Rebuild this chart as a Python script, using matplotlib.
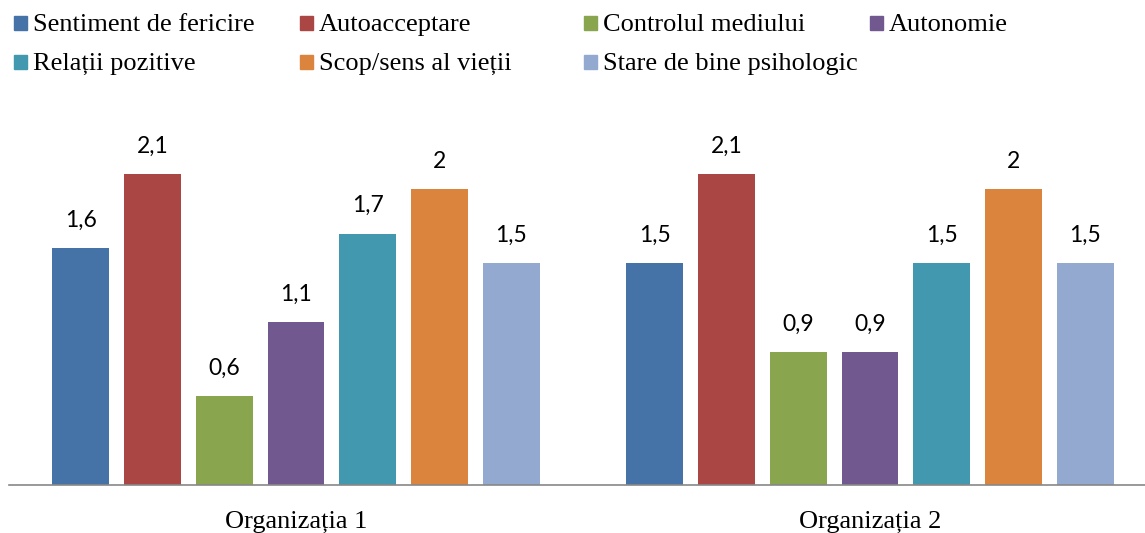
import matplotlib.pyplot as plt
from matplotlib.patches import Rectangle
import numpy as np

# Data
groups = ['Organizația 1', 'Organizația 2']
series = ['Sentiment de fericire', 'Autoacceptare', 'Controlul mediului', 'Autonomie',
          'Relații pozitive', 'Scop/sens al vieții', 'Stare de bine psihologic']
org1 = [1.6, 2.1, 0.6, 1.1, 1.7, 2.0, 1.5]
org2 = [1.5, 2.1, 0.9, 0.9, 1.5, 2.0, 1.5]
colors = ['#4572A7', '#AA4643', '#89A54E', '#71588F', '#4198AF', '#DB843D', '#93A9CF']

W, H = 1145, 533
fig = plt.figure(figsize=(W / 100, H / 100), dpi=100)


def fx(x):
    return x / W


def fy(y):
    return 1 - y / H


# axes placed in pixel coordinates of the reference
ax = fig.add_axes([fx(9), fy(485), fx(1157 - 9), (485 - 130) / H])
ax.set_ylim(0, 2.4)
ax.set_xlim(-0.5, 1.5)

x = np.arange(len(groups))
pitch = 0.125
width = 0.099
values = np.array([org1, org2])
for i, name in enumerate(series):
    pos = x + (i - 3) * pitch
    bars = ax.bar(pos, values[:, i], width, color=colors[i], label=name)
    for b, v in zip(bars, values[:, i]):
        txt = f'{v:g}'.replace('.', ',')
        ax.annotate(txt, (b.get_x() + b.get_width() / 2, v), xytext=(0, 20),
                    textcoords='offset points', ha='center', va='center',
                    fontsize=16.5, family='Lato', color='#000000')

for s in ['top', 'left', 'right']:
    ax.spines[s].set_visible(False)
ax.spines['bottom'].set_color('#888888')
ax.spines['bottom'].set_linewidth(1.2)
ax.set_yticks([])
ax.set_xticks(x)
ax.set_xticklabels(groups, family='Liberation Serif', fontsize=19)
ax.tick_params(axis='x', length=0, pad=19)

# legend laid out like the Excel one: 4 columns, row-major
col_x = [14, 300, 584, 870]
row_base = [31, 70]
for i, name in enumerate(series):
    cx = col_x[i % 4]
    by = row_base[i // 4]
    fig.add_artist(Rectangle((fx(cx), fy(by - 1)), fx(13), 14 / H,
                             transform=fig.transFigure, color=colors[i]))
    fig.text(fx(cx + 19), fy(by), name, family='Liberation Serif', fontsize=19,
             va='baseline', ha='left')

fig.savefig('out.png', dpi=100)
